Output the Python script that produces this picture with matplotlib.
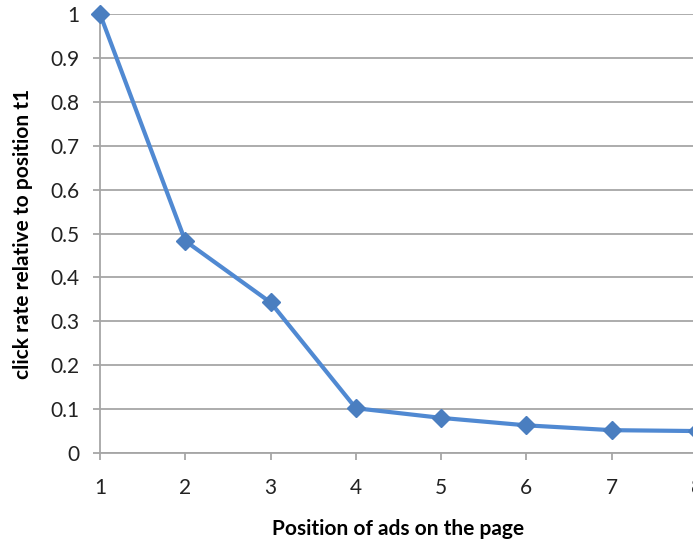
import matplotlib.pyplot as plt

# click rate per ad position, relative to position 1
positions = [1, 2, 3, 4, 5, 6, 7, 8]
click_rate = [1.0, 0.483, 0.343, 0.102, 0.080, 0.063, 0.052, 0.050]
y_ticks = [0, 0.1, 0.2, 0.3, 0.4, 0.5, 0.6, 0.7, 0.8, 0.9, 1]
y_labels = ["0", "0.1", "0.2", "0.3", "0.4", "0.5", "0.6", "0.7", "0.8", "0.9", "1"]

plt.rcParams["font.family"] = ["Lato", "DejaVu Sans"]

fig = plt.figure(figsize=(6.93, 5.5), dpi=100)
ax = fig.add_axes([100 / 693, 97 / 550, 597 / 693, 439 / 550])

ax.plot(positions, click_rate, color="#5089d2", linewidth=3.0,
        marker="D", markersize=9, markerfacecolor="#4a7ec0",
        markeredgecolor="#4a7ec0", zorder=3, clip_on=False)

ax.set_xlim(1, 8)
ax.set_ylim(0, 1)
ax.set_xticks(positions)
ax.set_yticks(y_ticks)
ax.set_yticklabels(y_labels)

ax.grid(axis="y", color="#a6a6a6", linewidth=1.3)
ax.set_axisbelow(True)
for side in ["top", "right"]:
    ax.spines[side].set_visible(False)
for side in ["left", "bottom"]:
    ax.spines[side].set_color("#a6a6a6")
    ax.spines[side].set_linewidth(1.3)

ax.tick_params(axis="both", colors="#a6a6a6", labelcolor="#222222",
               labelsize=15, length=5, width=1.3)
ax.tick_params(axis="x", pad=13)
ax.tick_params(axis="y", pad=10)

ax.set_xlabel("Position of ads on the page", fontsize=15, fontweight="bold",
              labelpad=15)
ax.set_ylabel("click rate relative to position t1", fontsize=15,
              fontweight="bold", labelpad=12)

fig.savefig("out.png", dpi=100)
